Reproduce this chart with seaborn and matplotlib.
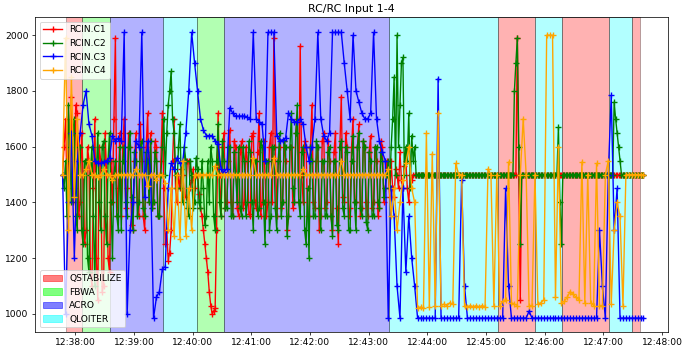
import pandas as pd
import numpy as np
import matplotlib
matplotlib.use("Agg")
import matplotlib.pyplot as plt
import matplotlib.dates as mdates
import seaborn as sns
from matplotlib.patches import Patch

# log starts at 12:37:47; C1/C2 read every 1.5 s, C3/C4 every 3 s
t_start = "2023-01-01 12:37:47"
step_fast = "1500ms"
step_slow = "3s"

rcin_c1 = [
    1500, 1600, 1700, 1450, 1550, 1650, 1780, 1400, 1450, 1750, 1720, 1350, 1400, 1650, 1500, 1250, 1300, 1600, 1550, 1150,
    1100, 1450, 1700, 1200, 1050, 1600, 1550, 1080, 1100, 1650, 1500, 1200, 1150, 1550, 1400, 1700, 1990, 1350, 1450, 1650,
    1350, 1600, 1700, 1380, 1450, 1650, 1600, 1320, 1300, 1550, 1650, 1400, 1350, 1680, 1550, 1350, 1300, 1600, 1720, 1400,
    1650, 1380, 1400, 1620, 1600, 1350, 1350, 1550, 1720, 1450, 1250, 1300, 1190, 1220, 1300, 1550, 1700, 1450, 1400, 1500,
    1450, 1520, 1500, 1420, 1420, 1550, 1550, 1450, 1480, 1520, 1450, 1500, 1500, 1430, 1380, 1350, 1300, 1250, 1200, 1150,
    1080, 1030, 1000, 1010, 1020, 1300, 1720, 1500, 1350, 1600, 1650, 1380, 1400, 1550, 1660, 1400, 1350, 1620, 1600, 1380,
    1350, 1580, 1620, 1380, 1400, 1600, 1550, 1360, 1350, 1640, 1650, 1400, 1380, 1580, 1720, 1350, 1400, 1620, 1500, 1350,
    1400, 1600, 1650, 1400, 1990, 1600, 1350, 1550, 1600, 1380, 1400, 1620, 1550, 1300, 1350, 1600, 1600, 1380, 1400, 1650,
    1700, 1400, 1960, 1500, 1400, 1620, 1600, 1350, 1350, 1600, 1750, 1400, 1380, 1550, 1600, 1300, 1350, 1620, 1650, 1380,
    1400, 1620, 1550, 1350, 1300, 1580, 1650, 1380, 1250, 1600, 1780, 1420, 1400, 1650, 1600, 1350, 1380, 1600, 1700, 1400,
    1400, 1600, 1680, 1350, 1380, 1620, 1600, 1400, 1350, 1580, 1640, 1380, 1400, 1600, 1550, 1350, 1380, 1620, 1600, 1400,
    1450, 1550, 1500, 1420, 1550, 1450, 1420, 1520, 1500, 1450, 1580, 1480, 1450, 1530, 1550, 1450, 1400, 1500, 1480, 1500,
    1500, 1500, 1500, 1500, 1500, 1500, 1500, 1500, 1500, 1500, 1500, 1500, 1500, 1500, 1500, 1500, 1500, 1500, 1500, 1500,
    1500, 1500, 1500, 1500, 1500, 1500, 1500, 1500, 1500, 1500, 1500, 1500, 1500, 1500, 1500, 1500, 1500, 1500, 1500, 1500,
    1500, 1500, 1500, 1500, 1500, 1500, 1500, 1500, 1500, 1500, 1500, 1500, 1500, 1500, 1500, 1500, 1500, 1500, 1500, 1500,
    1500, 1500, 1500, 1500, 1500, 1500, 1500, 1500, 1500, 1500, 1990, 1500, 1050, 1500, 1500, 1500, 1500, 1500, 1500, 1500,
    1500, 1500, 1500, 1500, 1500, 1500, 1500, 1500, 1500, 1500, 1500, 1500, 1500, 1500, 1500, 1500, 1500, 1500, 1500, 1500,
    1500, 1500, 1500, 1500, 1500, 1500, 1500, 1500, 1500, 1500, 1500, 1500, 1500, 1500, 1500, 1500, 1500, 1500, 1500, 1500,
    1500, 1500, 1500, 1500, 1500, 1500, 1500, 1500, 1500, 1500, 1500, 1500, 1500, 1500, 1500, 1500, 1500, 1500, 1500, 1500,
    1500, 1500, 1500, 1500, 1500, 1500, 1500, 1500, 1500, 1500, 1500, 1500, 1500, 1500, 1500, 1500, 1500,
]

rcin_c2 = [
    1500, 1450, 1550, 1350, 1750, 1600, 1400, 1650, 1700, 1350, 1300, 1600, 1600, 1300, 1250, 1550, 1550, 1200, 1150, 1500,
    1600, 1350, 1100, 1500, 1650, 1400, 1300, 1600, 1620, 1350, 1250, 1550, 1650, 1400, 1200, 1500, 1550, 1350, 1300, 1600,
    1300, 1550, 1600, 1400, 1350, 1600, 1650, 1420, 1300, 1580, 1550, 1350, 1400, 1600, 1620, 1380, 1350, 1580, 1550, 1400,
    1620, 1380, 1400, 1580, 1550, 1350, 1350, 1500, 1600, 1700, 1500, 1650, 1750, 1800, 1870, 1700, 1650, 1500, 1450, 1600,
    1680, 1450, 1400, 1600, 1550, 1380, 1350, 1550, 1500, 1380, 1400, 1560, 1520, 1400, 1380, 1550, 1450, 1320, 1350, 1550,
    1400, 1600, 1550, 1350, 1300, 1550, 1680, 1400, 1350, 1620, 1550, 1380, 1380, 1600, 1600, 1350, 1350, 1580, 1500, 1400,
    1600, 1380, 1350, 1600, 1550, 1350, 1400, 1620, 1580, 1400, 1300, 1550, 1550, 1350, 1380, 1620, 1600, 1400, 1250, 1550,
    1550, 1300, 1350, 1600, 1600, 1380, 1300, 1550, 1650, 1350, 1400, 1620, 1600, 1280, 1350, 1600, 1720, 1450, 1400, 1650,
    1750, 1400, 1350, 1580, 1600, 1300, 1250, 1450, 1200, 1600, 1550, 1350, 1350, 1620, 1600, 1380, 1300, 1550, 1550, 1350,
    1350, 1580, 1600, 1350, 1280, 1550, 1550, 1320, 1300, 1600, 1620, 1380, 1350, 1600, 1580, 1300, 1300, 1550, 1640, 1400,
    1300, 1600, 1650, 1380, 1350, 1620, 1600, 1330, 1300, 1580, 1550, 1350, 1350, 1600, 1600, 1400, 1380, 1580, 1550, 1420,
    1450, 1500, 1550, 1450, 1600, 1700, 1850, 1500, 2000, 1600, 1750, 1900, 1920, 1500, 1600, 1550, 1720, 1450, 1640, 1550,
    1600, 1500, 1500, 1500, 1500, 1500, 1500, 1500, 1500, 1500, 1500, 1500, 1500, 1500, 1500, 1500, 1500, 1500, 1500, 1500,
    1500, 1500, 1500, 1500, 1500, 1500, 1500, 1500, 1500, 1500, 1500, 1500, 1500, 1500, 1500, 1500, 1500, 1500, 1500, 1500,
    1500, 1500, 1500, 1500, 1500, 1500, 1500, 1500, 1500, 1500, 1500, 1500, 1500, 1500, 1500, 1500, 1500, 1500, 1500, 1500,
    1500, 1500, 1500, 1500, 1500, 1500, 1500, 1500, 1800, 1900, 1990, 1600, 1250, 1500, 1500, 1500, 1500, 1500, 1500, 1500,
    1500, 1500, 1500, 1500, 1500, 1500, 1500, 1500, 1500, 1500, 1500, 1500, 1500, 1500, 1500, 1500, 1500, 1500, 1670, 1400,
    1250, 1500, 1500, 1500, 1500, 1500, 1500, 1500, 1500, 1500, 1500, 1500, 1500, 1500, 1500, 1500, 1500, 1500, 1500, 1500,
    1500, 1500, 1500, 1500, 1500, 1500, 1500, 1500, 1500, 1500, 1500, 1500, 1500, 1500, 1500, 1500, 1760, 1700, 1650, 1600,
    1550, 1500, 1500, 1500, 1500, 1500, 1500, 1500, 1500, 1500, 1500, 1500, 1500, 1500, 1500, 1500, 1500,
]

rcin_c3 = [
    1500, 1000, 1400, 1650, 1200, 1550, 1650, 1750, 1800, 1680,
    1640, 1550, 1540, 1540, 1545, 1550, 1560, 1640, 1620, 1630,
    1620, 2010, 1000, 1300, 1400, 1620, 1600, 2010, 1420, 1620,
    1500, 985, 1060, 1080, 1160, 1170, 1450, 1540, 1520, 1560,
    1540, 1550, 1650, 1800, 2010, 1900, 1800, 1700, 1660, 1640,
    1640, 1640, 1620, 1610, 1520, 1510, 1520, 1740, 1720, 1710,
    1710, 1710, 1710, 1705, 1700, 2010, 1700, 1690, 1680, 1550,
    2010, 2010, 2010, 1640, 1620, 1625, 1630, 1720, 1700, 1690,
    1690, 1700, 1680, 1600, 1550, 1600, 1700, 2010, 1700, 1640,
    1620, 1650, 2010, 2010, 2010, 2010, 1900, 1800, 1700, 2000,
    1800, 1760, 1720, 1700, 1700, 1720, 2010, 1700, 1620, 1580,
    1550, 985, 1450, 1350, 1100, 985, 1450, 1150, 1350, 1200,
    1100, 985, 985, 985, 985, 985, 985, 985, 1844, 985,
    985, 985, 985, 985, 985, 985, 1480, 1100, 985, 985,
    985, 985, 985, 985, 985, 985, 985, 985, 985, 985,
    985, 1450, 1100, 985, 985, 985, 985, 985, 985, 1010,
    985, 985, 985, 985, 985, 985, 985, 985, 985, 985,
    985, 985, 985, 985, 985, 985, 985, 985, 985, 985,
    985, 985, 985, 1300, 1100, 985, 1500, 1784, 1300, 1450,
    985, 985, 985, 985, 985, 985, 985, 985, 985,
]

rcin_c4 = [
    1500, 1990, 1300, 1850, 1420, 1700, 1500, 1500, 1520, 1550,
    1500, 1500, 1490, 1500, 1520, 1500, 1500, 1480, 1500, 1500,
    1500, 1500, 1500, 1500, 1500, 1520, 1500, 1500, 1500, 1460,
    1500, 1500, 1480, 1500, 1500, 1470, 1300, 1450, 1280, 1500,
    1270, 1550, 1280, 1450, 1300, 1500, 1500, 1500, 1500, 1500,
    1500, 1500, 1530, 1500, 1500, 1500, 1500, 1500, 1500, 1500,
    1500, 1500, 1500, 1500, 1500, 1560, 1500, 1500, 1500, 1500,
    1500, 1500, 1560, 1500, 1500, 1500, 1500, 1500, 1500, 1500,
    1500, 1500, 1520, 1500, 1500, 1500, 1500, 1500, 1500, 1500,
    1500, 1500, 1500, 1500, 1500, 1550, 1500, 1500, 1500, 1500,
    1500, 1500, 1500, 1500, 1500, 1500, 1500, 1500, 1500, 1500,
    1500, 1520, 1350, 1450, 1300, 1400, 1480, 1540, 1600, 1450,
    1400, 1020, 1025, 1020, 1648, 1025, 1575, 1030, 1720, 1030,
    1035, 1030, 1040, 1035, 1540, 1500, 1500, 1030, 1025, 1030,
    1025, 1030, 1025, 1030, 1025, 1520, 1500, 1030, 1500, 1030,
    1045, 1050, 1545, 1040, 1035, 1030, 1500, 1700, 1500, 1030,
    1030, 1500, 1035, 1040, 1050, 2000, 2000, 2000, 1060, 1600,
    1040, 1045, 1060, 1080, 1070, 1060, 1050, 1545, 1040, 1500,
    1040, 1030, 1540, 1030, 1030, 1500, 1550, 1035, 1300, 1400,
    1350, 1030, 1500, 1500, 1500, 1500, 1500, 1500, 1500,
]

channels = ["RCIN.C1", "RCIN.C2", "RCIN.C3", "RCIN.C4"]
channel_values = [rcin_c1, rcin_c2, rcin_c3, rcin_c4]
channel_steps = [step_fast, step_fast, step_slow, step_slow]
channel_colors = ["red", "green", "blue", "orange"]

# flight mode segments
mode_name = ["QSTABILIZE", "FBWA", "ACRO", "QLOITER", "FBWA", "ACRO",
             "QLOITER", "QSTABILIZE", "QLOITER", "QSTABILIZE", "QLOITER", "QSTABILIZE"]
mode_start = ["12:37:50", "12:38:07", "12:38:36", "12:39:30", "12:40:04", "12:40:32",
              "12:43:21", "12:45:12", "12:45:50", "12:46:18", "12:47:06", "12:47:29"]
mode_end = ["12:38:07", "12:38:36", "12:39:30", "12:40:04", "12:40:32", "12:43:21",
            "12:45:12", "12:45:50", "12:46:18", "12:47:06", "12:47:29", "12:47:37"]
mode_colors = {"QSTABILIZE": "red", "FBWA": "lime", "ACRO": "blue", "QLOITER": "cyan"}

fig = plt.figure(figsize=(10.455, 5.41), dpi=66)
ax = fig.add_axes([0.051, 0.07, 0.917, 0.882])

day = "2023-01-01 "
for name, s, e in zip(mode_name, mode_start, mode_end):
    ax.axvspan(pd.Timestamp(day + s), pd.Timestamp(day + e), facecolor=mode_colors[name],
               edgecolor="black", linewidth=1, alpha=0.3, zorder=0)

for ch, vals, step, col in zip(channels, channel_values, channel_steps, channel_colors):
    d = pd.DataFrame({"time": pd.date_range(t_start, periods=len(vals), freq=step), ch: vals})
    sns.lineplot(data=d, x="time", y=ch, ax=ax, color=col, label=ch, estimator=None,
                 marker="+", markersize=7.5, mec=col, mew=1.5, linewidth=1.5)

ax.set_xlabel("")
ax.set_ylabel("")
ax.set_title("RC/RC Input 1-4")
ax.set_xlim(pd.Timestamp(day + "12:37:19"), pd.Timestamp(day + "12:48:06"))
ax.set_ylim(935, 2065)
ax.xaxis.set_major_locator(mdates.MinuteLocator())
ax.xaxis.set_major_formatter(mdates.DateFormatter("%H:%M:%S"))

leg1 = ax.legend(loc="upper left")
ax.add_artist(leg1)
handles = [Patch(facecolor=mode_colors[m], edgecolor=mode_colors[m], alpha=0.5, label=m)
           for m in ["QSTABILIZE", "FBWA", "ACRO", "QLOITER"]]
ax.legend(handles=handles, loc="lower left")

plt.savefig("out.png", dpi=66)
